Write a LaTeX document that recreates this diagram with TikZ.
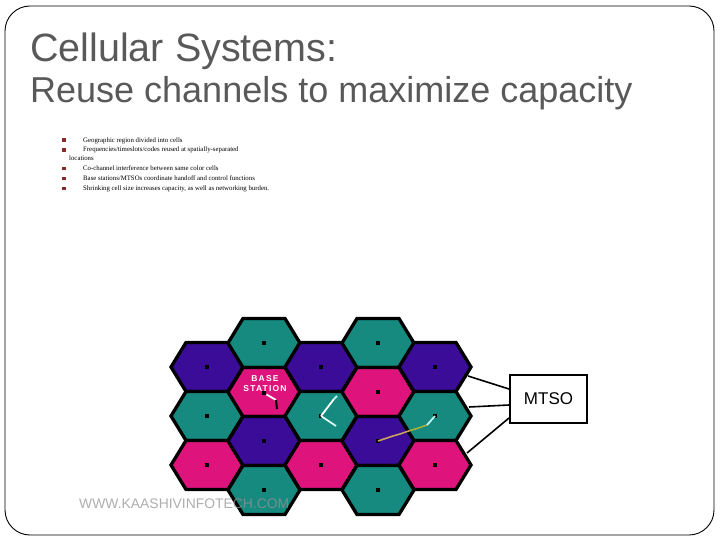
\documentclass[tikz,border=0pt]{standalone}
\usepackage{fontspec}
\setmainfont{Liberation Serif}
\newfontfamily\arialfont{Liberation Sans}
\newfontfamily\spacedfont{Liberation Sans}[LetterSpace=14]
\definecolor{cteal}{HTML}{168A7E}
\definecolor{cpurple}{HTML}{3A0C98}
\definecolor{cmag}{HTML}{DE147C}
\definecolor{titlegray}{HTML}{595959}
\definecolor{bulletred}{HTML}{8A2A2A}
\definecolor{tan}{HTML}{C8A060}
\definecolor{olive}{HTML}{A4B040}
\definecolor{lightcyan}{HTML}{B8F4F4}
\tikzset{
  hexstyle/.style={draw=black, line width=3.3pt, line join=miter},
  celldot/.style={rectangle, fill=black, inner sep=0pt, minimum size=4.6pt},
  bulletbox/.style={rectangle, fill=bulletred, inner sep=0pt, minimum width=4pt, minimum height=3.2pt},
  bullettext/.style={anchor=base west, inner sep=0pt, font=\fontsize{6.8}{7}\selectfont},
  link/.style={draw=black, line width=1.6pt},
}
\begin{document}
\begin{tikzpicture}[x=1pt,y=-1pt]
\useasboundingbox (0,0) rectangle (720,540);
\draw[rounded corners=25pt, line width=0.9pt] (5,6) rectangle (714,535);

% title
\node[anchor=base west, inner sep=0pt, text=titlegray, font=\arialfont\fontsize{39.5}{40}\selectfont] (t1) at (30,62) {Cellular Systems:};
\node[anchor=base west, inner sep=0pt, text=titlegray, font=\arialfont\fontsize{36}{37}\selectfont] (t2) at (30,103) {Reuse channels to maximize capacity};

% bullets
\node[bulletbox] (b1) at (64,140) {};
\node[bulletbox] (b2) at (64,150) {};
\node[bulletbox] (b3) at (64,168.5) {};
\node[bulletbox] (b4) at (64,178.5) {};
\node[bulletbox] (b5) at (64,188.5) {};
\node[bullettext] (l1) at (83,142.5) {Geographic region divided into cells};
\node[bullettext] (l2) at (83,152) {Frequencies/timeslots/codes reused at spatially-separated};
\node[bullettext] (l2b) at (69,161) {locations};
\node[bullettext] (l3) at (83,171) {Co-channel interference between same color cells};
\node[bullettext] (l4) at (83,181) {Base stations/MTSOs coordinate handoff and control functions};
\node[bullettext] (l5) at (83,191) {Shrinking cell size increases capacity, as well as networking burden.};

% hexagonal cells
\foreach \x/\y/\c in {207/367/cpurple, 207/416/cteal, 207/465/cmag,
  264/343/cteal, 264/392/cmag, 264/441/cpurple, 264/490/cteal,
  321/367/cpurple, 321/416/cteal, 321/465/cmag,
  378/343/cteal, 378/392/cmag, 378/441/cpurple, 378/490/cteal,
  435/367/cpurple, 435/416/cteal, 435/465/cmag}{
  \filldraw[hexstyle, fill=\c] (\x-36,\y) -- ++(15,-24.5) -- ++(42,0) -- ++(15,24.5) -- ++(-15,24.5) -- ++(-42,0) -- cycle;
}
\foreach \x/\y in {207/367, 207/416, 207/465, 264/343, 264/441, 264/490,
  321/367, 321/416, 321/465, 378/343, 378/392, 378/441, 378/490,
  435/367, 435/416, 435/465}{
  \node[celldot] (cell-\x-\y) at (\x,\y) {};
}
\node[celldot] (bs) at (264,393) {};

% base station label
\node[anchor=base, inner sep=0pt, text=white, font=\spacedfont\bfseries\fontsize{8.5}{9}\selectfont] (bslabel1) at (265,381) {BASE};
\node[anchor=base, inner sep=0pt, text=white, font=\spacedfont\bfseries\fontsize{8.5}{9}\selectfont] (bslabel2) at (265,391) {STATION};

% mobiles
\coordinate (m1) at (276,400);
\coordinate (m1b) at (277,409);
\draw[white, line width=1.8pt] (bs) -- (m1);
\draw[black, line width=2pt] (m1) -- (m1b);

\coordinate (m2a) at (334,399);
\coordinate (m2t) at (337,396);
\coordinate (m2b) at (336,426);
\draw[white, line width=1.8pt] (cell-321-416.center) -- (m2a);
\draw[lightcyan, line width=1.8pt] (m2a) -- (m2t);
\draw[white!60!lightcyan, line width=1.8pt] (cell-321-416.center) -- (m2b);

\coordinate (w1) at (393,436);
\coordinate (w2) at (400,434);
\coordinate (w3) at (410,430.5);
\coordinate (w4) at (417,428.5);
\coordinate (w5) at (427,425);
\draw[tan, line width=1.6pt] (cell-378-441.center) -- (w1) -- (w2) -- (w3);
\draw[olive, line width=1.6pt] (w3) -- (w4) -- (w5);
\draw[lightcyan, line width=1.8pt] (w5) -- (cell-435-416.center);

% MTSO
\node[draw=black, line width=2pt, minimum width=77pt, minimum height=48pt, inner sep=0pt,
  font=\arialfont\fontsize{17}{18}\selectfont] (mtso) at (548.5,399) {MTSO};
\coordinate (h1) at (468,376);
\coordinate (h2) at (469,407);
\coordinate (h3) at (467,453);
\draw[link] (h1) -- ([yshift=10pt]mtso.west);
\draw[link] (h2) -- ([yshift=-6pt]mtso.west);
\draw[link] (h3) -- ([yshift=-19pt]mtso.west);

% watermark
\node[anchor=base west, inner sep=0pt, text=gray!85, opacity=0.75, font=\arialfont\fontsize{13.9}{14}\selectfont] (wm) at (79,508) {WWW.KAASHIVINFOTECH.COM};
\end{tikzpicture}
\end{document}
